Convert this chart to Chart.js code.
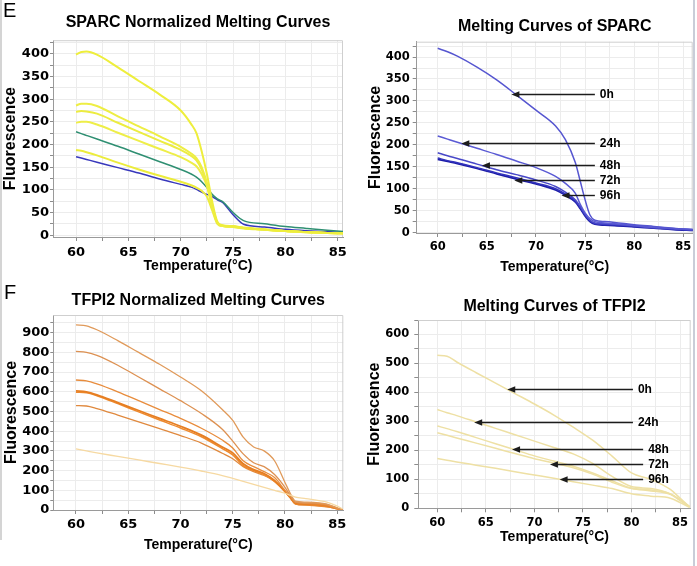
<!DOCTYPE html>
<html><head><meta charset="utf-8">
<script src="https://cdn.jsdelivr.net/npm/chart.js@4/dist/chart.umd.min.js"></script>
<style>
html,body{margin:0;padding:0;background:#fff;}
#wrap{position:relative;width:697px;height:566px;overflow:hidden;background:#fff;}
canvas{position:absolute;}
.lbl{position:absolute;font-family:'Liberation Sans',Arial,sans-serif;font-size:20px;color:#000;line-height:1;}
.edge{position:absolute;}
</style></head><body>
<div id="wrap">
<canvas id="c1" width="350" height="280" style="left:0;top:0"></canvas>
<canvas id="c2" width="347" height="280" style="left:350px;top:0"></canvas>
<canvas id="c3" width="350" height="286" style="left:0;top:280px"></canvas>
<canvas id="c4" width="347" height="286" style="left:350px;top:280px"></canvas>
<div class="lbl" style="left:3px;top:0px">E</div>
<div class="lbl" style="left:4px;top:282px">F</div>
<div class="edge" style="left:0;top:0;width:2px;height:540px;background:#d4d4d4"></div>
<div class="edge" style="left:693px;top:0;width:2px;height:566px;background:#c9cdd8"></div>
</div>
<script>
// ---------- DATA ----------
// Panel E left: SPARC normalized melting curves
const sparcNormTemp = [60, 60.5, 61, 62, 64, 66, 68, 70, 71, 71.5, 72, 72.5, 73, 73.5, 74, 75, 76, 78, 80, 82, 84, 85.5];
const sparcNormY1 = [398, 404, 405, 398, 370, 340, 310, 275, 245, 225, 185, 135, 75, 30, 22, 20, 17, 13, 9, 7, 5, 4];
const sparcNormY2 = [286, 290, 290, 285, 262, 240, 218, 195, 180, 170, 150, 115, 65, 28, 21, 19, 16, 12, 9, 7, 5, 4];
const sparcNormY3 = [272, 274, 273, 268, 248, 228, 208, 188, 175, 165, 145, 112, 63, 27, 21, 19, 16, 12, 9, 7, 5, 4];
const sparcNormY4 = [248, 250, 250, 244, 226, 208, 190, 172, 160, 152, 135, 108, 62, 27, 20, 18, 16, 12, 9, 7, 5, 4];
const sparcNormY5 = [188, 186, 183, 176, 160, 145, 131, 118, 110, 105, 98, 85, 55, 25, 20, 18, 15, 12, 9, 6, 5, 4];
const sparcNormGreen = [228, 224, 220, 212, 196, 179, 162, 145, 135, 128, 118, 105, 90, 80, 74, 50, 32, 25, 19, 15, 11, 8];
const sparcNormBlue = [173, 170, 167, 161, 149, 137, 124, 112, 106, 101, 95, 90, 85, 78, 72, 45, 24, 18, 13, 10, 8, 6];
const sparcNormYTicks = [0, 50, 100, 150, 200, 250, 300, 350, 400];

// Panel E right: Melting curves of SPARC
const sparcTemp = [60, 61, 62, 64, 66, 68, 70, 72, 73, 74, 74.5, 75, 75.5, 76, 77, 78, 80, 82, 84, 86];
const sparc0h  = [420, 412, 402, 377, 348, 314, 279, 243, 212, 160, 118, 75, 40, 28, 25, 23, 18, 14, 10, 7];
const sparc24h = [220, 213, 206, 192, 178, 163, 148, 128, 112, 90, 65, 45, 32, 25, 22, 20, 16, 12, 9, 7];
const sparc48h = [182, 175, 169, 156, 143, 132, 120, 105, 92, 75, 60, 42, 28, 22, 20, 19, 15, 11, 8, 6];
const sparc72h = [170, 164, 159, 148, 136, 125, 113, 100, 88, 72, 57, 40, 27, 20, 18, 17, 14, 11, 8, 6];
const sparc96h = [167, 162, 157, 146, 134, 122, 111, 97, 85, 70, 55, 38, 25, 19, 17, 16, 13, 10, 7, 5];
const sparcYTicks = [0, 50, 100, 150, 200, 250, 300, 350, 400];
const sparcArrowLabels = ['0h', '24h', '48h', '72h', '96h'];
const sparcArrowTipT   = [67.5, 62.4, 64.5, 67.8, 72.6];
const sparcArrowValue  = [316, 205, 153, 120, 85];
const sparcArrowTailT  = [76.0, 76.0, 76.0, 76.0, 76.0];

// Panel F left: TFPI2 normalized melting curves
const tfpiNormTemp = [60, 61, 62, 64, 66, 68, 70, 72, 74, 75, 76, 77, 78, 79, 80, 80.5, 81, 82, 84, 85, 85.5];
const tfpiNormA = [940, 935, 915, 860, 800, 740, 675, 605, 510, 455, 370, 320, 300, 250, 140, 85, 45, 40, 30, 10, 0];
const tfpiNormB = [805, 800, 785, 735, 675, 615, 555, 490, 410, 350, 285, 240, 220, 180, 115, 75, 40, 36, 28, 10, 0];
const tfpiNormC = [660, 655, 640, 600, 555, 510, 465, 415, 355, 315, 250, 220, 195, 165, 100, 70, 40, 34, 25, 8, 0];
const tfpiNormD = [605, 600, 585, 545, 505, 465, 425, 380, 320, 290, 235, 205, 185, 150, 95, 65, 35, 30, 22, 8, 0];
const tfpiNormE = [598, 595, 580, 540, 498, 457, 416, 372, 312, 280, 225, 200, 180, 145, 92, 62, 32, 27, 18, 6, 0];
const tfpiNormF = [530, 528, 515, 482, 448, 413, 378, 340, 288, 260, 220, 195, 175, 145, 95, 62, 30, 25, 16, 6, 0];
const tfpiNormG = [310, 300, 290, 272, 254, 236, 218, 198, 175, 160, 145, 130, 115, 100, 85, 75, 65, 58, 40, 20, 5];
const tfpiNormYTicks = [0, 100, 200, 300, 400, 500, 600, 700, 800, 900];

// Panel F right: Melting curves of TFPI2
const tfpiTemp = [60, 61, 62, 64, 66, 68, 70, 72, 74, 76, 78, 80, 82, 84, 85, 86];
const tfpi0h  = [528, 525, 505, 468, 432, 396, 360, 322, 280, 235, 180, 122, 100, 65, 35, 5];
const tfpi24h = [341, 330, 320, 298, 276, 254, 232, 210, 188, 155, 110, 75, 68, 50, 30, 5];
const tfpi48h = [284, 275, 265, 244, 223, 202, 181, 163, 145, 122, 95, 70, 63, 50, 28, 5];
const tfpi72h = [261, 252, 243, 225, 207, 189, 171, 156, 140, 118, 90, 68, 60, 48, 27, 5];
const tfpi96h = [172, 166, 160, 149, 138, 126, 115, 104, 92, 80, 68, 50, 42, 35, 20, 3];
const tfpiYTicks = [0, 100, 200, 300, 400, 500, 600];
const tfpiArrowLabels = ['0h', '24h', '48h', '72h', '96h'];
const tfpiArrowTipT   = [67.2, 63.8, 67.7, 71.6, 72.6];
const tfpiArrowValue  = [411, 299, 204, 154, 100];
const tfpiArrowTailT  = [80.15, 80.15, 81.2, 81.2, 81.2];

const xTickLabels = [60, 65, 70, 75, 80, 85];

// ---------- HELPERS ----------
Chart.defaults.font.family = "'Liberation Sans', Arial, sans-serif";
Chart.defaults.color = '#000';

function gridValues(min, max, step) {
  const out = [];
  for (let v = Math.ceil(min / step) * step; v <= max + 1e-9; v += step) out.push(Math.round(v * 100) / 100);
  return out;
}

const framePlugin = {
  id: 'frame',
  beforeDatasetsDraw(chart) {
    const {ctx, chartArea: a} = chart;
    ctx.save();
    ctx.strokeStyle = '#cfcfcf';
    ctx.lineWidth = 1;
    ctx.beginPath();
    ctx.moveTo(a.left, a.top + 0.5);
    ctx.lineTo(a.right - 0.5, a.top + 0.5);
    ctx.lineTo(a.right - 0.5, a.bottom);
    ctx.stroke();
    ctx.restore();
  }
};

const arrowPlugin = {
  id: 'arrows',
  afterDatasetsDraw(chart, args, opts) {
    if (!opts || !opts.labels) return;
    const {ctx, scales: {x, y}} = chart;
    ctx.save();
    opts.labels.forEach((lab, i) => {
      const px = x.getPixelForValue(opts.tipT[i]);
      const py = Math.round(y.getPixelForValue(opts.value[i])) + 0.5;
      const tx = x.getPixelForValue(opts.tailT[i]);
      ctx.strokeStyle = '#1c1c1c';
      ctx.fillStyle = '#1c1c1c';
      ctx.lineWidth = 1.4;
      ctx.beginPath();
      ctx.moveTo(tx, py);
      ctx.lineTo(px + 5, py);
      ctx.stroke();
      ctx.beginPath();
      ctx.moveTo(px, py);
      ctx.lineTo(px + 8, py - 3.2);
      ctx.lineTo(px + 8, py + 3.2);
      ctx.closePath();
      ctx.fill();
      ctx.font = opts.font;
      ctx.textBaseline = 'middle';
      ctx.textAlign = 'left';
      ctx.fillStyle = '#000';
      ctx.fillText(lab, tx + 5, py);
    });
    ctx.restore();
  }
};

function makeChart(id, c) {
  const datasets = c.series.map(s => ({
    data: c.temps.map((t, i) => ({x: t, y: s.values[i]})),
    borderColor: s.color,
    borderWidth: s.width || 1.5,
    pointRadius: 0,
    fill: false,
    cubicInterpolationMode: 'monotone'
  }));
  const tickFont = {family: "'DejaVu Sans', sans-serif", size: c.tickSize, weight: 'bold'};
  return new Chart(document.getElementById(id), {
    type: 'line',
    data: {datasets},
    plugins: [framePlugin, arrowPlugin],
    options: {
      responsive: false,
      animation: false,
      devicePixelRatio: 1,
      layout: {padding: {left: 0, right: c.padRight, top: 0, bottom: 0}},
      plugins: {
        legend: {display: false},
        tooltip: {enabled: false},
        title: {display: true, text: c.title, fullSize: false, color: '#000',
          font: {size: 16, weight: 'bold'}, padding: {top: c.titlePad[0], bottom: c.titlePad[1]}},
        arrows: c.arrows || {}
      },
      scales: {
        x: {
          type: 'linear', min: c.xMin, max: c.xMax,
          afterBuildTicks: s => { s.ticks = gridValues(c.xMin, c.xMax, 2.5).map(v => ({value: v})); },
          afterFit: s => { s.height = c.xAxisHeight; s.paddingLeft = 0; s.paddingRight = 0; },
          ticks: {autoSkip: false, maxRotation: 0, minRotation: 0, padding: c.xTick[1], font: tickFont, color: '#000',
            callback: v => xTickLabels.includes(v) ? String(v) : ''},
          grid: {color: '#ececec', tickLength: c.xTick[0], tickColor: '#8c8c8c'},
          border: {color: '#9a9a9a'},
          title: {display: true, text: 'Temperature(°C)', color: '#000', font: {size: 14, weight: 'bold'},
            padding: {top: 0, bottom: c.xTitlePad}}
        },
        y: {
          type: 'linear', min: c.yMin, max: c.yMax,
          afterBuildTicks: s => { s.ticks = gridValues(Math.max(0, c.yMin), c.yMax, c.yStep).map(v => ({value: v})); },
          afterFit: s => { s.width = c.yAxisWidth; s.paddingTop = 0; s.paddingBottom = 0; },
          ticks: {autoSkip: false, padding: c.yTick[1], font: tickFont, color: '#000',
            callback: v => c.yLabels.includes(v) ? String(v) : ''},
          grid: {color: '#ececec', tickLength: c.yTick[0], tickColor: '#8c8c8c'},
          border: {color: '#9a9a9a'},
          title: {display: true, text: 'Fluorescence', color: '#000', font: {size: 16, weight: 'bold'},
            padding: {top: c.yTitlePad, bottom: 0}}
        }
      }
    }
  });
}

// ---------- CHARTS ----------
makeChart('c1', {
  title: 'SPARC Normalized Melting Curves', temps: sparcNormTemp,
  series: [
    {values: sparcNormY1, color: '#eeee3c', width: 2},
    {values: sparcNormY2, color: '#eeee44', width: 2},
    {values: sparcNormY3, color: '#ecec40', width: 2},
    {values: sparcNormY4, color: '#eeee48', width: 2},
    {values: sparcNormY5, color: '#ecec3c', width: 2},
    {values: sparcNormGreen, color: '#2f8f72', width: 1.5},
    {values: sparcNormBlue, color: '#3838bc', width: 1.5}
  ],
  xMin: 57.8, xMax: 85.5, yMin: -4, yMax: 430, yStep: 25, yLabels: sparcNormYTicks,
  titlePad: [13, 8], yTitlePad: 1, yAxisWidth: 53, xAxisHeight: 43, padRight: 7, xTitlePad: 5,
  tickSize: 13, yTick: [3, 1], xTick: [4, 4]
});

makeChart('c2', {
  title: 'Melting Curves of SPARC', temps: sparcTemp,
  series: [
    {values: sparc0h, color: '#5656d0', width: 1.5},
    {values: sparc24h, color: '#5a5ad4', width: 1.5},
    {values: sparc48h, color: '#4848c8', width: 1.5},
    {values: sparc72h, color: '#3232bc', width: 1.5},
    {values: sparc96h, color: '#1c1ca8', width: 1.8}
  ],
  xMin: 57.86, xMax: 85.96, yMin: -1, yMax: 435, yStep: 25, yLabels: sparcYTicks,
  titlePad: [17.1, 5.4], yTitlePad: 16.4, yAxisWidth: 66.7, xAxisHeight: 47, padRight: 4.3, xTitlePad: 4.9,
  tickSize: 11.5, yTick: [4, 3], xTick: [4, 3],
  arrows: {labels: sparcArrowLabels, tipT: sparcArrowTipT, value: sparcArrowValue, tailT: sparcArrowTailT,
    font: "bold 12px 'Liberation Sans', Arial, sans-serif"}
});

makeChart('c3', {
  title: 'TFPI2 Normalized Melting Curves', temps: tfpiNormTemp,
  series: [
    {values: tfpiNormG, color: '#f6d9a2', width: 1.3},
    {values: tfpiNormA, color: '#e09a5a', width: 1.3},
    {values: tfpiNormB, color: '#dd9152', width: 1.3},
    {values: tfpiNormC, color: '#e88c3c', width: 1.3},
    {values: tfpiNormD, color: '#e67e22', width: 1.8},
    {values: tfpiNormE, color: '#ee8a2e', width: 1.5},
    {values: tfpiNormF, color: '#e0893e', width: 1.3}
  ],
  xMin: 57.83, xMax: 85.58, yMin: 0, yMax: 990, yStep: 50, yLabels: tfpiNormYTicks,
  titlePad: [11.1, 4.7], yTitlePad: 2.4, yAxisWidth: 53.3, xAxisHeight: 56, padRight: 6.7, xTitlePad: 12.6,
  tickSize: 13, yTick: [3, 1], xTick: [4, 3]
});

makeChart('c4', {
  title: 'Melting Curves of TFPI2', temps: tfpiTemp,
  series: [
    {values: tfpi0h, color: '#eee0a4', width: 1.5},
    {values: tfpi24h, color: '#eee0a4', width: 1.5},
    {values: tfpi48h, color: '#eee0a4', width: 1.5},
    {values: tfpi72h, color: '#eee0a4', width: 1.5},
    {values: tfpi96h, color: '#eee0a4', width: 1.5}
  ],
  xMin: 58.04, xMax: 86.1, yMin: 0, yMax: 650, yStep: 50, yLabels: tfpiYTicks,
  titlePad: [17.1, 3.7], yTitlePad: 15.4, yAxisWidth: 68.3, xAxisHeight: 57.7, padRight: 6.3, xTitlePad: 20.9,
  tickSize: 11.5, yTick: [4, 5], xTick: [4, 4],
  arrows: {labels: tfpiArrowLabels, tipT: tfpiArrowTipT, value: tfpiArrowValue, tailT: tfpiArrowTailT,
    font: "bold 12px 'Liberation Sans', Arial, sans-serif"}
});
</script>
</body></html>
